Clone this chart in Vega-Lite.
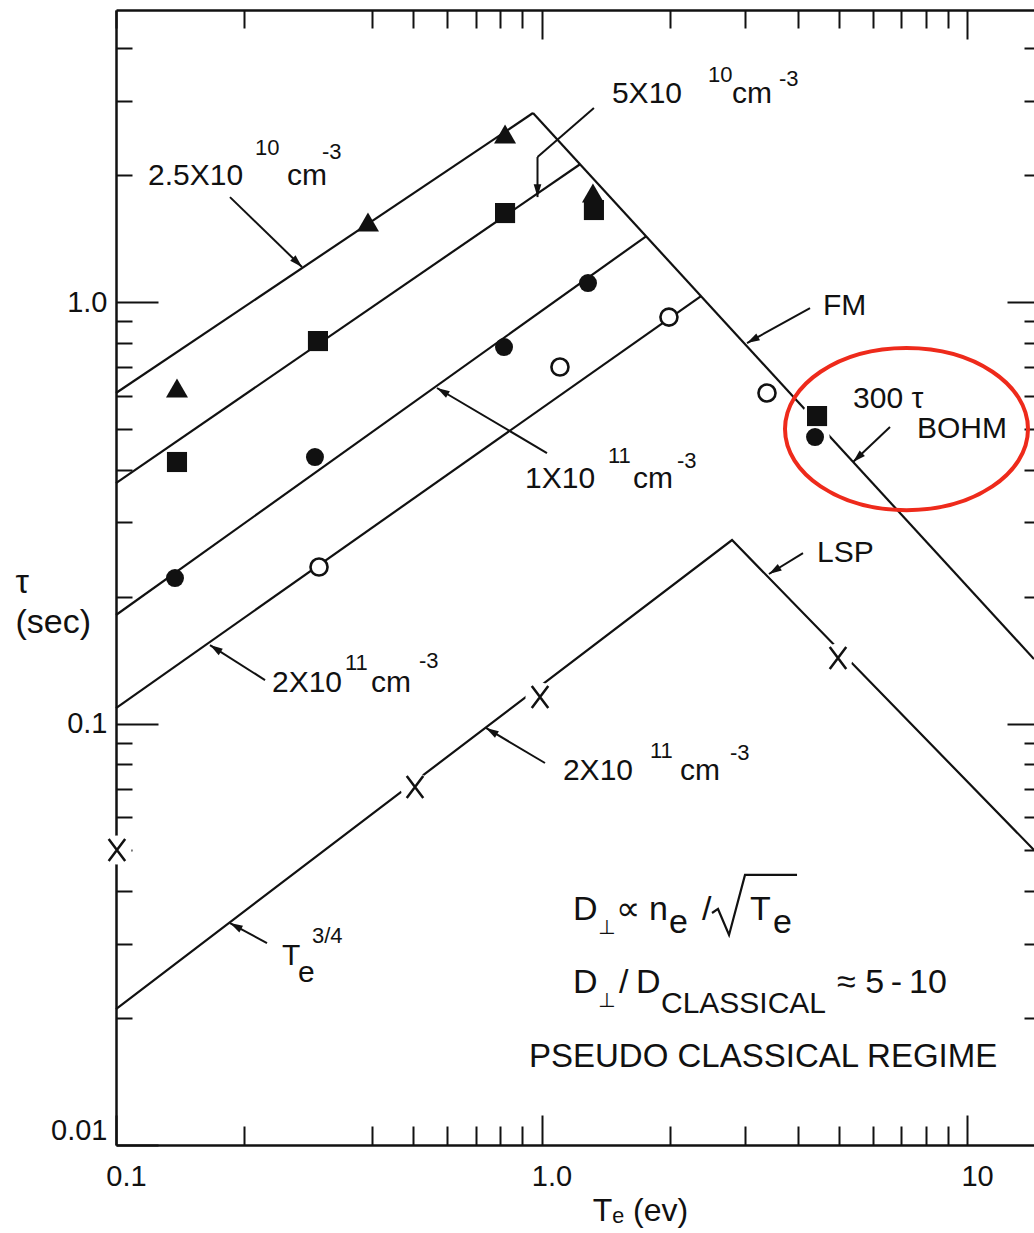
{
  "$schema": "https://vega.github.io/schema/vega-lite/v6.json",
  "width": 918,
  "height": 1135,
  "autosize": {"type": "none"},
  "padding": {"left": 116, "top": 10, "right": 0, "bottom": 88},
  "background": "white",
  "config": {
    "view": {"stroke": null},
    "font": "Liberation Sans",
    "axis": {
      "grid": false,
      "domainColor": "#111",
      "domainWidth": 2.5,
      "tickColor": "#111",
      "tickWidth": 2,
      "labelColor": "#111",
      "titleColor": "#111",
      "labelFont": "Liberation Sans",
      "titleFont": "Liberation Sans",
      "titleFontWeight": "normal"
    }
  },
  "datasets": {
    "lines": [
      {"series": "2.5e10", "ord": 1, "x": 0.1, "y": 0.6083},
      {"series": "2.5e10", "ord": 2, "x": 0.955, "y": 2.808},
      {"series": "5e10", "ord": 1, "x": 0.1, "y": 0.372},
      {"series": "5e10", "ord": 2, "x": 1.232, "y": 2.123},
      {"series": "1e11", "ord": 1, "x": 0.1, "y": 0.1809},
      {"series": "1e11", "ord": 2, "x": 1.761, "y": 1.432},
      {"series": "2e11", "ord": 1, "x": 0.1, "y": 0.1088},
      {"series": "2e11", "ord": 2, "x": 2.371, "y": 1.033},
      {"series": "FM", "ord": 1, "x": 0.955, "y": 2.808},
      {"series": "FM", "ord": 2, "x": 14.37, "y": 0.1422},
      {"series": "LSP", "ord": 1, "x": 0.1, "y": 0.02102},
      {"series": "LSP", "ord": 2, "x": 2.804, "y": 0.2725},
      {"series": "LSP", "ord": 3, "x": 14.37, "y": 0.0501}
    ],
    "radical": [
      {"ord": 1, "x": 2.516, "y": 0.03552},
      {"ord": 2, "x": 2.599, "y": 0.03631},
      {"ord": 3, "x": 2.759, "y": 0.0315},
      {"ord": 4, "x": 3.008, "y": 0.04372},
      {"ord": 5, "x": 3.986, "y": 0.04372}
    ],
    "points": [
      {"marker": "triangle", "set": "2.5e10", "x": 0.1391, "y": 0.625},
      {"marker": "triangle", "set": "2.5e10", "x": 0.391, "y": 1.548},
      {"marker": "triangle", "set": "2.5e10", "x": 0.821, "y": 2.504},
      {"marker": "triangle", "set": "2.5e10", "x": 1.321, "y": 1.814},
      {"marker": "square", "set": "5e10", "x": 0.1391, "y": 0.4173},
      {"marker": "square", "set": "5e10", "x": 0.2983, "y": 0.808},
      {"marker": "square", "set": "5e10", "x": 0.821, "y": 1.626},
      {"marker": "square", "set": "5e10", "x": 1.328, "y": 1.653},
      {"marker": "square", "set": "Bohm", "x": 4.442, "y": 0.5364},
      {"marker": "dot", "set": "1e11", "x": 0.1376, "y": 0.2214},
      {"marker": "dot", "set": "1e11", "x": 0.2935, "y": 0.4288},
      {"marker": "dot", "set": "1e11", "x": 0.8164, "y": 0.7819},
      {"marker": "dot", "set": "1e11", "x": 1.286, "y": 1.109},
      {"marker": "dot", "set": "Bohm", "x": 4.394, "y": 0.4783},
      {"marker": "ring", "set": "2e11", "x": 0.3, "y": 0.2351},
      {"marker": "ring", "set": "2e11", "x": 1.105, "y": 0.701},
      {"marker": "ring", "set": "2e11", "x": 1.993, "y": 0.921},
      {"marker": "ring", "set": "2e11", "x": 3.388, "y": 0.6083},
      {"marker": "x", "set": "LSP", "x": 0.1005, "y": 0.0501},
      {"marker": "x", "set": "LSP", "x": 0.5043, "y": 0.0707},
      {"marker": "x", "set": "LSP", "x": 0.992, "y": 0.1156},
      {"marker": "x", "set": "LSP", "x": 4.975, "y": 0.143}
    ],
    "arrows": [
      {"head": true, "x": 0.1853, "y": 1.774, "x2": 0.2736, "y2": 1.211},
      {"head": false, "x": 1.328, "y": 2.886, "x2": 0.9786, "y2": 2.208},
      {"head": true, "x": 0.9786, "y": 2.208, "x2": 0.9786, "y2": 1.774},
      {"head": true, "x": 1.03, "y": 0.4383, "x2": 0.568, "y2": 0.6252},
      {"head": true, "x": 0.224, "y": 0.1268, "x2": 0.1663, "y2": 0.1535},
      {"head": true, "x": 1.019, "y": 0.0806, "x2": 0.7404, "y2": 0.0976},
      {"head": true, "x": 4.276, "y": 0.9677, "x2": 3.041, "y2": 0.7993},
      {"head": true, "x": 6.592, "y": 0.5053, "x2": 5.397, "y2": 0.4173},
      {"head": true, "x": 4.117, "y": 0.2538, "x2": 3.424, "y2": 0.2263},
      {"head": true, "x": 0.2264, "y": 0.03014, "x2": 0.1853, "y2": 0.03362}
    ],
    "texts": [
      {"role": "main", "text": "2.5X10", "x": 0.1189, "y": 1.895},
      {"role": "main", "text": "cm", "x": 0.2522, "y": 1.895},
      {"role": "main", "text": "5X10", "x": 1.464, "y": 2.966},
      {"role": "main", "text": "cm", "x": 2.804, "y": 2.966},
      {"role": "main", "text": "1X10", "x": 0.9146, "y": 0.362},
      {"role": "main", "text": "cm", "x": 1.641, "y": 0.362},
      {"role": "main", "text": "2X10", "x": 0.2326, "y": 0.1188},
      {"role": "main", "text": "cm", "x": 0.3974, "y": 0.1188},
      {"role": "main", "text": "2X10", "x": 1.123, "y": 0.07345},
      {"role": "main", "text": "cm", "x": 2.116, "y": 0.07345},
      {"role": "main", "text": "FM", "x": 4.587, "y": 0.9315},
      {"role": "main", "text": "300 τ", "x": 5.397, "y": 0.5606},
      {"role": "main", "text": "BOHM", "x": 7.629, "y": 0.4757},
      {"role": "main", "text": "LSP", "x": 4.442, "y": 0.2416},
      {"role": "main", "text": "T", "x": 0.2455, "y": 0.02673},
      {"role": "main", "text": "e", "x": 0.2677, "y": 0.02436},
      {"role": "main", "text": "CLASSICAL", "x": 1.909, "y": 0.02056},
      {"role": "sup", "text": "10", "x": 0.2121, "y": 2.233},
      {"role": "sup", "text": "-3", "x": 0.3049, "y": 2.184},
      {"role": "sup", "text": "10", "x": 2.462, "y": 3.326},
      {"role": "sup", "text": "-3", "x": 3.616, "y": 3.254},
      {"role": "sup", "text": "11", "x": 1.433, "y": 0.415},
      {"role": "sup", "text": "-3", "x": 2.082, "y": 0.4039},
      {"role": "sup", "text": "11", "x": 0.3453, "y": 0.1339},
      {"role": "sup", "text": "-3", "x": 0.5153, "y": 0.1354},
      {"role": "sup", "text": "11", "x": 1.799, "y": 0.08279},
      {"role": "sup", "text": "-3", "x": 2.773, "y": 0.0819},
      {"role": "sup", "text": "3/4", "x": 0.2888, "y": 0.03014},
      {"role": "big", "text": "D", "x": 1.186, "y": 0.03419},
      {"role": "big", "text": "∝", "x": 1.497, "y": 0.03419},
      {"role": "big", "text": "n", "x": 1.789, "y": 0.03419},
      {"role": "big", "text": "e", "x": 1.993, "y": 0.03184},
      {"role": "big", "text": "/", "x": 2.384, "y": 0.03419},
      {"role": "big", "text": "T", "x": 3.09, "y": 0.03419},
      {"role": "big", "text": "e", "x": 3.501, "y": 0.03184},
      {"role": "big", "text": "D", "x": 1.186, "y": 0.02294},
      {"role": "big", "text": "/", "x": 1.521, "y": 0.02294},
      {"role": "big", "text": "D", "x": 1.668, "y": 0.02294},
      {"role": "big", "text": "≈ 5\u2009-\u200910", "x": 4.949, "y": 0.02294},
      {"role": "small", "text": "⊥", "x": 1.358, "y": 0.03168},
      {"role": "small", "text": "⊥", "x": 1.358, "y": 0.02126},
      {"role": "regime", "text": "PSEUDO CLASSICAL REGIME", "x": 0.9346, "y": 0.01531}
    ],
    "highlight": [
      {"note": "300 tau Bohm", "x": 7.208, "y": 0.4995}
    ]
  },
  "encoding": {
    "x": {"field": "x", "type": "quantitative", "scale": {"type": "log", "domain": [0.1, 14.37], "nice": false}, "axis": null},
    "y": {"field": "y", "type": "quantitative", "scale": {"type": "log", "domain": [0.01, 4.93], "nice": false}, "axis": null}
  },
  "layer": [
    {
      "data": {"name": "lines"},
      "mark": {"type": "line", "color": "#111", "strokeWidth": 2.2, "clip": false},
      "encoding": {
        "x": {
          "field": "x", "type": "quantitative",
          "scale": {"type": "log", "domain": [0.1, 14.37], "nice": false},
          "axis": {
            "orient": "bottom",
            "values": [0.1, 0.2, 0.4, 0.5, 0.6, 0.7, 0.8, 0.9, 1, 2, 3, 4, 5, 6, 7, 8, 9, 10],
            "labelExpr": "datum.value == 0.1 ? '0.1' : datum.value == 1 ? '1.0' : datum.value == 10 ? '10' : ''",
            "tickSize": {"condition": {"test": "datum.value == 0.1 || datum.value == 1 || datum.value == 10", "value": -30}, "value": -19},
            "labelFontSize": 29,
            "labelPadding": 47,
            "labelOffset": 10,
            "labelOverlap": false,
            "labelFlush": false,
            "title": "Tₑ (ev)",
            "titleFontSize": 32,
            "titleAlign": "center",
            "titleBaseline": "alphabetic",
            "titleX": 524,
            "titleY": 75
          }
        },
        "y": {
          "field": "y", "type": "quantitative",
          "scale": {"type": "log", "domain": [0.01, 4.93], "nice": false},
          "axis": {
            "orient": "left",
            "values": [0.01, 0.02, 0.03, 0.04, 0.05, 0.06, 0.07, 0.08, 0.09, 0.1, 0.2, 0.3, 0.4, 0.5, 0.6, 0.7, 0.8, 0.9, 1, 2, 3, 4],
            "labelExpr": "datum.value == 0.01 ? '0.01' : datum.value == 0.1 ? '0.1' : datum.value == 1 ? '1.0' : ''",
            "tickSize": {"condition": {"test": "datum.value == 0.01 || datum.value == 0.1 || datum.value == 1", "value": -42}, "value": -16},
            "labelFontSize": 29,
            "labelPadding": 51,
            "labelFlush": true,
            "labelOverlap": false,
            "title": ["\u00a0\u00a0τ", "(sec)"],
            "titleAngle": 0,
            "titleAlign": "left",
            "titleBaseline": "alphabetic",
            "titleX": -101,
            "titleY": 582,
            "titleFontSize": 34,
            "titleLineHeight": 40
          }
        },
        "detail": {"field": "series", "type": "nominal"},
        "order": {"field": "ord", "type": "quantitative"}
      }
    },
    {
      "data": {"name": "points"},
      "transform": [{"filter": "datum.marker == 'x' || datum.set == 'Bohm'"}],
      "mark": {"type": "point", "shape": "circle", "filled": true, "color": "white", "opacity": 1, "size": 850, "strokeWidth": 0},
      "encoding": {
        "x": {
          "field": "x", "type": "quantitative",
          "scale": {"type": "log", "domain": [0.1, 14.37], "nice": false},
          "axis": {
            "orient": "top",
            "values": [0.1, 0.2, 0.4, 0.5, 0.6, 0.7, 0.8, 0.9, 1, 2, 3, 4, 5, 6, 7, 8, 9, 10],
            "labels": false,
            "domain": true,
            "tickSize": {"condition": {"test": "datum.value == 1 || datum.value == 10", "value": -29}, "value": -18},
            "title": null
          }
        },
        "y": {
          "field": "y", "type": "quantitative",
          "scale": {"type": "log", "domain": [0.01, 4.93], "nice": false},
          "axis": {
            "orient": "right",
            "values": [0.02, 0.03, 0.04, 0.05, 0.06, 0.07, 0.08, 0.09, 0.1, 0.2, 0.3, 0.4, 0.5, 0.6, 0.7, 0.8, 0.9, 1, 2, 3, 4],
            "labels": false,
            "domain": false,
            "tickSize": {"condition": {"test": "datum.value == 0.1 || datum.value == 1", "value": -27}, "value": -10},
            "title": null
          }
        }
      }
    },
    {
      "data": {"name": "radical"},
      "mark": {"type": "line", "color": "#111", "strokeWidth": 2.2},
      "encoding": {
        "order": {"field": "ord", "type": "quantitative"}
      }
    },
    {
      "data": {"name": "arrows"},
      "mark": {"type": "rule", "color": "#111", "strokeWidth": 2},
      "encoding": {
        "x2": {"field": "x2"},
        "y2": {"field": "y2"}
      }
    },
    {
      "data": {"name": "arrows"},
      "transform": [{"filter": "datum.head"}],
      "mark": {
        "type": "point",
        "shape": "M 0 0 L -0.3 1 L 0.3 1 Z",
        "filled": true,
        "color": "#111",
        "opacity": 1,
        "size": 650,
        "strokeWidth": 0,
        "angle": {"expr": "atan2(scale('x', datum.x2) - scale('x', datum.x), scale('y', datum.y) - scale('y', datum.y2)) * 180 / PI"}
      },
      "encoding": {
        "x": {"field": "x2", "type": "quantitative", "scale": {"type": "log", "domain": [0.1, 14.37], "nice": false}, "axis": null},
        "y": {"field": "y2", "type": "quantitative", "scale": {"type": "log", "domain": [0.01, 4.93], "nice": false}, "axis": null}
      }
    },
    {
      "data": {"name": "points"},
      "transform": [{"filter": "datum.marker == 'triangle' || datum.marker == 'square' || datum.marker == 'dot'"}],
      "mark": {"type": "point", "filled": true, "color": "#111", "opacity": 1, "strokeWidth": 0},
      "encoding": {
        "shape": {"field": "marker", "type": "nominal", "scale": {"domain": ["triangle", "square", "dot"], "range": ["triangle-up", "square", "circle"]}, "legend": null},
        "size": {"field": "marker", "type": "nominal", "scale": {"domain": ["triangle", "square", "dot"], "range": [484, 324, 330]}, "legend": null}
      }
    },
    {
      "data": {"name": "points"},
      "transform": [{"filter": "datum.marker == 'ring'"}],
      "mark": {"type": "point", "shape": "circle", "filled": true, "fill": "white", "stroke": "#111", "strokeWidth": 2.6, "opacity": 1, "size": 290}
    },
    {
      "data": {"name": "points"},
      "transform": [{"filter": "datum.marker == 'x'"}],
      "mark": {"type": "point", "shape": "M -0.75 -1 L 0.75 1 M -0.75 1 L 0.75 -1", "filled": false, "stroke": "#111", "strokeWidth": 2.5, "opacity": 1, "size": 484}
    },
    {
      "data": {"name": "texts"},
      "transform": [{"filter": "datum.role == 'main'"}],
      "mark": {"type": "text", "align": "left", "baseline": "alphabetic", "font": "Liberation Sans", "fontSize": 30, "color": "#111"},
      "encoding": {"text": {"field": "text"}}
    },
    {
      "data": {"name": "texts"},
      "transform": [{"filter": "datum.role == 'sup'"}],
      "mark": {"type": "text", "align": "left", "baseline": "alphabetic", "font": "Liberation Sans", "fontSize": 22, "color": "#111"},
      "encoding": {"text": {"field": "text"}}
    },
    {
      "data": {"name": "texts"},
      "transform": [{"filter": "datum.role == 'big'"}],
      "mark": {"type": "text", "align": "left", "baseline": "alphabetic", "font": "Liberation Sans", "fontSize": 34, "color": "#111"},
      "encoding": {"text": {"field": "text"}}
    },
    {
      "data": {"name": "texts"},
      "transform": [{"filter": "datum.role == 'small'"}],
      "mark": {"type": "text", "align": "left", "baseline": "alphabetic", "font": "DejaVu Sans", "fontSize": 20, "color": "#111"},
      "encoding": {"text": {"field": "text"}}
    },
    {
      "data": {"name": "texts"},
      "transform": [{"filter": "datum.role == 'regime'"}],
      "mark": {"type": "text", "align": "left", "baseline": "alphabetic", "font": "Liberation Sans", "fontSize": 33, "color": "#111"},
      "encoding": {"text": {"field": "text"}}
    },
    {
      "data": {"name": "highlight"},
      "mark": {
        "type": "point",
        "shape": "M -1 0 C -1 -0.3683 -0.5523 -0.667 0 -0.667 C 0.5523 -0.667 1 -0.3683 1 0 C 1 0.3683 0.5523 0.667 0 0.667 C -0.5523 0.667 -1 0.3683 -1 0 Z",
        "filled": false,
        "stroke": "#ee2a1b",
        "strokeWidth": 4,
        "opacity": 1,
        "size": 59049
      }
    }
  ],
  "resolve": {"axis": {"x": "independent", "y": "independent"}}
}
